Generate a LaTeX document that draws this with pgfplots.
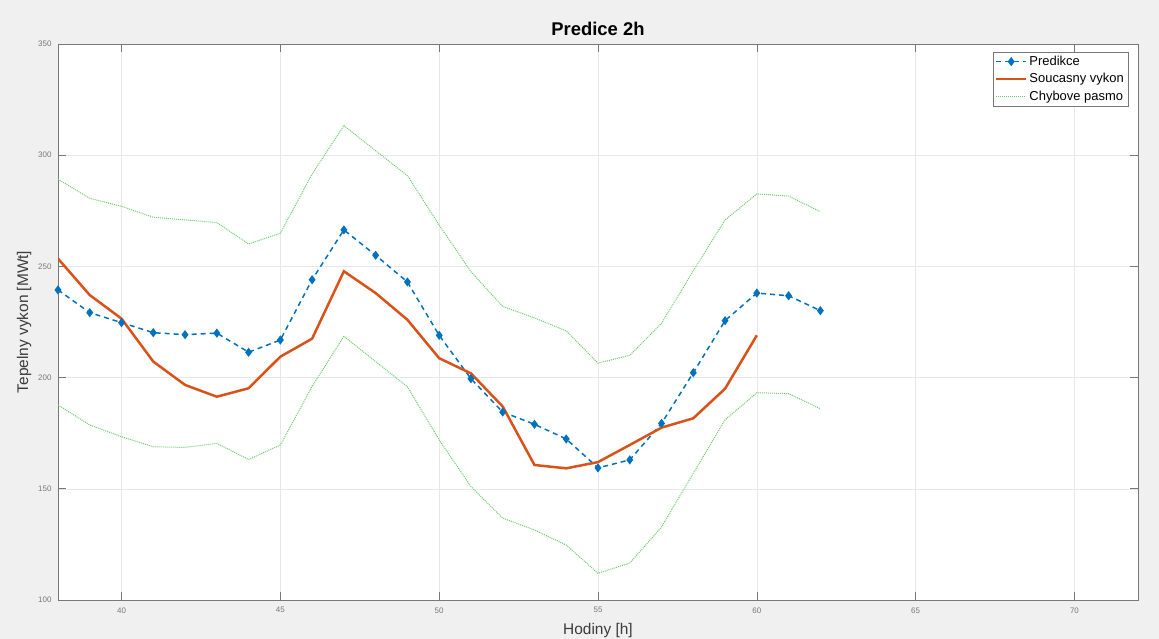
\documentclass[border=0pt]{standalone}
\usepackage{fontspec}
\setmainfont{Liberation Sans}
\usepackage{pgfplots}
\pgfplotsset{compat=1.18}
\definecolor{mblue}{RGB}{0,114,189}
\definecolor{morange}{RGB}{217,83,25}
\definecolor{mgreen}{RGB}{110,205,110}
\definecolor{figbg}{RGB}{240,240,240}
\definecolor{tickgray}{RGB}{120,120,120}
\definecolor{labgray}{RGB}{60,60,60}
\begin{document}
\begin{tikzpicture}[x=1bp,y=1bp]
\fill[figbg] (0,0) rectangle (1159,639);
\useasboundingbox (0,0) rectangle (1159,639);
\begin{axis}[at={(58bp,39bp)}, anchor=south west, scale only axis,
  width=1080bp, height=556bp,
  xmin=38, xmax=72, ymin=100, ymax=350,
  xtick={40,45,...,70}, ytick={100,150,...,350},
  axis background/.style={fill=white},
  grid=major, major grid style={gray!18, line width=0.5pt},
  axis line style={tickgray, line width=0.6pt},
  tick style={tickgray, line width=0.6pt}, major tick length=8bp,
  tick label style={font=\fontsize{8}{9}\selectfont, text=tickgray},
  xticklabel style={yshift=-4bp},
  yticklabel style={xshift=-3bp},
  /pgf/number format/assume math mode=true,
  title={\bfseries Predice 2h},
  title style={font=\fontsize{18.5}{20}\selectfont, at={(0.5,1)}, anchor=base, yshift=2.5bp},
  xlabel={Hodiny [h]}, ylabel={Tepelny vykon [MWt]},
  label style={font=\fontsize{15.5}{17}\selectfont, text=labgray},
  xlabel style={yshift=-3bp},
  ylabel style={yshift=0bp},
  legend style={at={(0.9907,0.9856)}, anchor=north east, font=\fontsize{13}{15}\selectfont,
    draw=tickgray, inner sep=2pt, row sep=2.5pt, fill=white},
  legend cell align=left,
  legend image code/.code={\draw[mark repeat=2,mark phase=2,#1] plot coordinates {(0bp,0bp) (15bp,0bp) (30bp,0bp)};},
]
\addplot[mblue, line width=1.5bp, dash pattern=on 5bp off 4bp,
  mark=diamond*, mark size=3.4bp, mark options={solid, fill=mblue}] coordinates {
(38,239.4) (39,229.2) (40,224.7) (41,220.2) (42,219.3) (43,220) (44,211.4) (45,216.9)
(46,244) (47,266.4) (48,255) (49,243) (50,219) (51,199.5) (52,184.5) (53,179)
(54,172.4) (55,159.4) (56,163) (57,179.4) (58,202.2) (59,225.6) (60,238) (61,236.8) (62,230.1)};
\addlegendentry{Predikce}
\addplot[morange, line width=2.5bp] coordinates {
(38,253.5) (39,237.1) (40,226.5) (41,207.2) (42,196.7) (43,191.4) (44,195.2) (45,209.4)
(46,217.5) (47,247.8) (48,238) (49,226) (50,208.7) (51,201.9) (52,187) (53,160.7)
(54,159.2) (55,162) (56,169.7) (57,177.5) (58,181.7) (59,195) (60,219)};
\addlegendentry{Soucasny vykon}
\addplot[mgreen, line width=1bp, dash pattern=on 1bp off 1bp] coordinates {
(38,289.2) (39,280.6) (40,277) (41,272.1) (42,270.9) (43,269.7) (44,260.1) (45,264.9)
(46,291.5) (47,313.3) (48,302) (49,290.8) (50,268.6) (51,247.6) (52,232) (53,226.8)
(54,221) (55,206.5) (56,210) (57,224.4) (58,248) (59,270.9) (60,282.6) (61,281.6) (62,274.6)};
\addlegendentry{Chybove pasmo}
\addplot[mgreen, line width=1bp, dash pattern=on 1bp off 1bp, forget plot] coordinates {
(38,187.7) (39,178.7) (40,173.4) (41,168.9) (42,168.6) (43,170.4) (44,163.2) (45,169.7)
(46,196) (47,218.6) (48,207.2) (49,195.9) (50,172) (51,151) (52,136.8) (53,131.5)
(54,124.7) (55,112) (56,116.6) (57,132.8) (58,157) (59,181) (60,193.2) (61,192.8) (62,186)};
\end{axis}
\end{tikzpicture}
\end{document}
